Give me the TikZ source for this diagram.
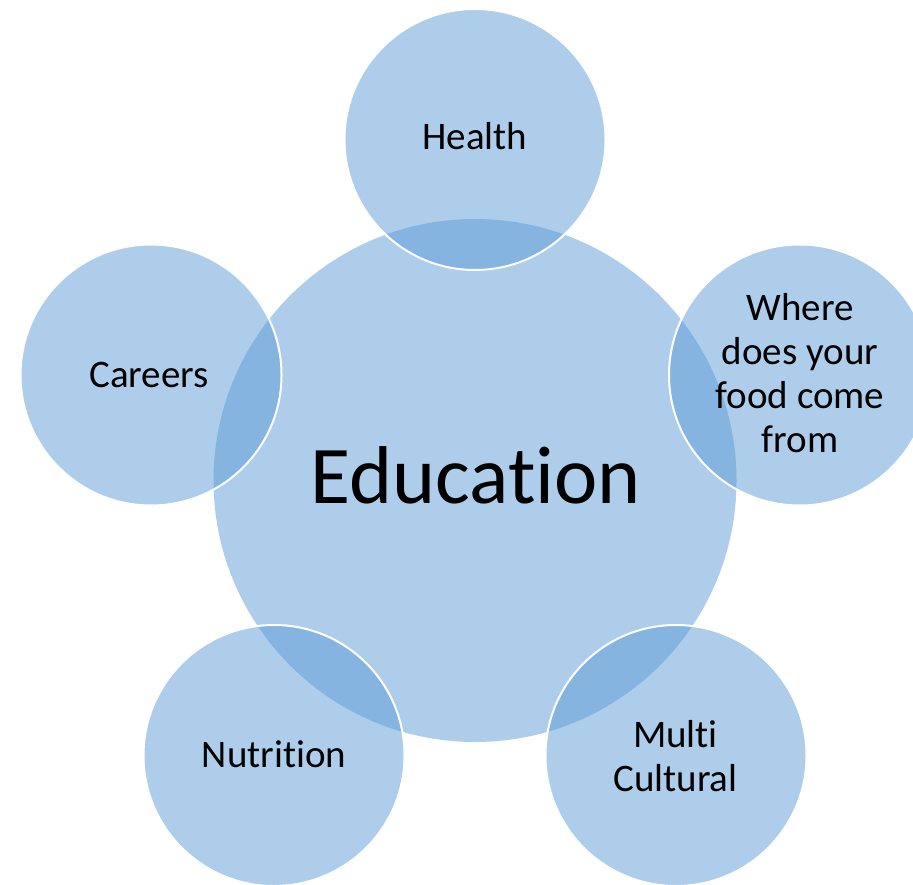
\documentclass[tikz,border=0pt]{standalone}
\usepackage{fontspec}
\setmainfont{Carlito}[Ligatures={NoCommon}, RawFeature={-liga;-clig;-dlig}]
\definecolor{accentblue}{HTML}{5B9BD5}
\begin{document}
\begin{tikzpicture}[x=1pt,y=-1pt,
  bigcirc/.style={circle, inner sep=0pt, outer sep=0pt, minimum size=523pt,
    fill=accentblue, fill opacity=0.5},
  smallcirc/.style={circle, inner sep=0pt, outer sep=0pt, minimum size=261pt,
    fill=accentblue, fill opacity=0.5, draw=white, draw opacity=1, line width=2pt},
  lbl/.style={anchor=base, inner sep=0pt, text=black, font=\fontsize{39}{44}\selectfont},
  biglbl/.style={anchor=base, inner sep=0pt, text=black, font=\fontsize{82}{90}\selectfont}]
\useasboundingbox (0,0) rectangle (913,885);
\node[bigcirc] (edu) at (475,480.5) {};
\node[smallcirc] (health) at (475,139.5) {};
\node[smallcirc] (food) at (799.5,375) {};
\node[smallcirc] (multi) at (676,755.5) {};
\node[smallcirc] (nutr) at (274,755.5) {};
\node[smallcirc] (careers) at (151,375) {};
\node[biglbl] (tedu) at (476,503) {Education};
\node[lbl] (thealth) at (475,150) {Health};
\node[lbl] (tcareers) at (149,387) {Careers};
\node[lbl] (tnutr) at (274,767) {Nutrition};
\node[lbl] (tmulti1) at (675.5,747) {Multi};
\node[lbl] (tmulti2) at (675.5,791) {Cultural};
\node[lbl] (tfood1) at (800,320) {Where};
\node[lbl] (tfood2) at (800,364) {does your};
\node[lbl] (tfood3) at (800,408) {food come};
\node[lbl] (tfood4) at (800,452) {from};
\end{tikzpicture}
\end{document}
